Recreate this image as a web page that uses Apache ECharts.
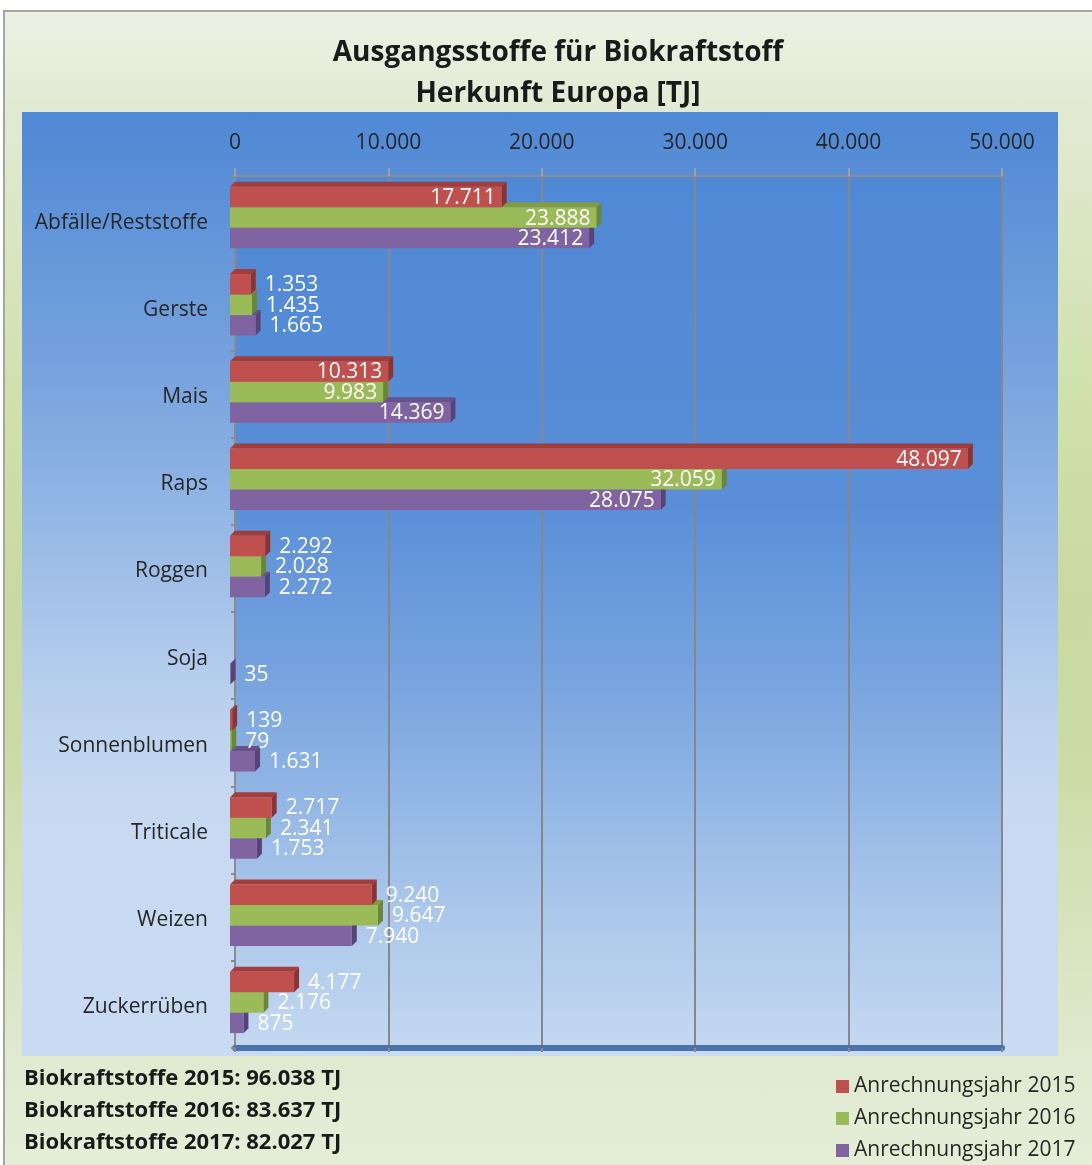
<!DOCTYPE html>
<html>
<head>
<meta charset="utf-8">
<script src="https://cdn.jsdelivr.net/npm/echarts@6/dist/echarts.min.js"></script>
<style>
  html, body { margin: 0; padding: 0; background: #fff; overflow: hidden; }
  #frame {
    position: absolute; left: 3px; top: 10px; width: 1100px; height: 1170px;
    border-top: 2px solid #a6a6a6; border-left: 2px solid #a6a6a6;
    background: linear-gradient(to bottom, #edf1e4 0%, #e3ead4 8%, #cfe0aa 34%, #c8daa1 50%, #c9dba3 62%, #e0ead0 90%, #e6eed9 100%);
  }
  #plot {
    position: absolute; left: 22px; top: 112px; width: 1036px; height: 944px;
    background: linear-gradient(to bottom, #4f88d5 0%, #7ba6df 30%, #b9d0ee 62%, #c6d9f1 73%, #c8dbf2 100%);
  }
  #chart { position: absolute; left: 0; top: 0; width: 1092px; height: 1165px; }
</style>
</head>
<body>
<div id="frame"></div>
<div id="plot"></div>
<div id="chart"></div>
<script>
const categories = ['Abfälle/Reststoffe', 'Gerste', 'Mais', 'Raps', 'Roggen', 'Soja', 'Sonnenblumen', 'Triticale', 'Weizen', 'Zuckerrüben']
const seriesNames = ['Anrechnungsjahr 2015', 'Anrechnungsjahr 2016', 'Anrechnungsjahr 2017']
const values2015 = [17711, 1353, 10313, 48097, 2292, null, 139, 2717, 9240, 4177]
const values2016 = [23888, 1435, 9983, 32059, 2028, null, 79, 2341, 9647, 2176]
const values2017 = [23412, 1665, 14369, 28075, 2272, 35, 1631, 1753, 7940, 875]
const xTicks = [0, 10000, 20000, 30000, 40000, 50000]
const totalYears = [2015, 2016, 2017]
const totals = [96038, 83637, 82027]

const FONT = '"Open Sans", "Noto Sans", sans-serif'
const TEXT = '#262626'
const INSIDE_MIN = 9900 // labels of longer bars sit inside the bar end

// front / top / side colours per year
const palette = [
  { front: '#c0504d', top: '#a13e3b', side: '#8c3331' },
  { front: '#9bbb59', top: '#7f9d43', side: '#6b8637' },
  { front: '#8064a2', top: '#68508a', side: '#574375' }
]

const fmt = (v) => String(v).replace(/\B(?=(\d{3})+(?!\d))/g, '.')

const makeRender = (s) => function (params, api) {
  const val = api.value(1)
  if (val == null || isNaN(val)) return
  const cat = api.value(0)
  const p0 = api.coord([0, cat])
  const p1 = api.coord([val, cat])
  const band = api.size([0, 1])[1]
  const h = band * 0.235
  const d = 5
  const y = p0[1] - 1.5 * h - 2 + s * h
  const x0 = p0[0] - d
  const x1 = p1[0] - d
  const c = palette[s]
  const inside = val >= INSIDE_MIN
  return {
    type: 'group',
    children: [
      { type: 'polygon', shape: { points: [[x0, y], [x0 + d, y - d], [x1 + d, y - d], [x1, y]] }, style: { fill: c.top } },
      { type: 'polygon', shape: { points: [[x1, y], [x1 + d, y - d], [x1 + d, y + h - d], [x1, y + h]] }, style: { fill: c.side } },
      { type: 'rect', shape: { x: x0, y: y, width: Math.max(x1 - x0, 0), height: h }, style: { fill: c.front } },
      {
        type: 'text',
        z2: 10,
        style: {
          text: fmt(val),
          x: inside ? x1 - 6 : x1 + 14,
          y: y + h / 2 + 1,
          align: inside ? 'right' : 'left',
          verticalAlign: 'middle',
          fill: '#ffffff',
          font: '21px ' + FONT
        }
      }
    ]
  }
}

const allValues = [values2015, values2016, values2017]

const chart = echarts.init(document.getElementById('chart'), null, { renderer: 'canvas' })

const option = {
  backgroundColor: 'transparent',
  textStyle: { fontFamily: FONT },
  title: {
    text: 'Ausgangsstoffe für Biokraftstoff\nHerkunft Europa [TJ]',
    left: 553,
    textAlign: 'center',
    top: 28,
    textStyle: { fontSize: 28, fontWeight: 'bold', color: '#1a1a1a', lineHeight: 41, fontFamily: FONT }
  },
  legend: {
    orient: 'vertical',
    left: 836,
    top: 1076,
    itemWidth: 13,
    itemHeight: 13,
    itemGap: 11,
    padding: 0,
    icon: 'rect',
    data: seriesNames,
    textStyle: { fontSize: 21, color: TEXT, fontFamily: FONT }
  },
  graphic: totals.map((t, i) => ({
    type: 'text',
    left: 24,
    top: 1068 + i * 32,
    style: {
      text: 'Biokraftstoffe ' + totalYears[i] + ': ' + fmt(t) + ' TJ',
      font: 'bold 22px ' + FONT,
      fill: '#1a1a1a'
    }
  })),
  grid: {
    left: 235,
    right: 90,
    top: 176,
    bottom: 117,
    show: true,
    borderWidth: 1,
    borderColor: '#8c8c8c',
    backgroundColor: new echarts.graphic.LinearGradient(0, 0, 0, 1, [
      { offset: 0, color: '#4f88d5' },
      { offset: 0.38, color: '#5a8fd8' },
      { offset: 0.6, color: '#7ca7e0' },
      { offset: 0.83, color: '#a9c6ea' },
      { offset: 1, color: '#c4d8f1' }
    ])
  },
  xAxis: [
    {
      type: 'value',
      position: 'top',
      min: xTicks[0],
      max: xTicks[xTicks.length - 1],
      interval: xTicks[1] - xTicks[0],
      axisLine: { show: true, lineStyle: { color: '#8c8c8c', width: 2 } },
      axisTick: { show: true, length: 8, lineStyle: { color: '#a0a0a0', width: 2 } },
      axisLabel: { color: TEXT, fontSize: 21, margin: 22, formatter: (v) => fmt(v) },
      splitLine: { show: true, lineStyle: { color: '#878787', width: 2 } }
    },
    {
      // floor of the 3D plot
      type: 'value',
      position: 'bottom',
      min: xTicks[0],
      max: xTicks[xTicks.length - 1],
      interval: xTicks[1] - xTicks[0],
      axisLine: { show: true, lineStyle: { color: '#4b72ab', width: 6 } },
      axisTick: { show: true, length: 4, lineStyle: { color: '#8c8c8c', width: 2 } },
      axisLabel: { show: false },
      splitLine: { show: false }
    }
  ],
  yAxis: {
    type: 'category',
    data: categories,
    inverse: true,
    offset: 4,
    axisLine: { show: true, lineStyle: { color: '#8c8c8c', width: 2 } },
    axisTick: { show: true, length: 4, lineStyle: { color: '#8c8c8c', width: 2 } },
    axisLabel: {
      color: TEXT,
      fontSize: 21,
      margin: 23,
      formatter: (v) => '{c|' + v + '}',
      rich: { c: { color: TEXT, fontSize: 21, fontFamily: FONT, padding: [6, 0, 0, 0] } }
    },
    splitLine: { show: false }
  },
  series: allValues.map((vals, s) => ({
    name: seriesNames[s],
    type: 'custom',
    xAxisIndex: 0,
    z: 10 - s,
    itemStyle: { color: palette[s].front },
    encode: { x: 1, y: 0 },
    renderItem: makeRender(s),
    data: vals.map((v, i) => [i, v == null ? '-' : v])
  }))
}

chart.setOption(option)
window.addEventListener('resize', function () {
  chart.resize()
})
</script>
</body>
</html>
